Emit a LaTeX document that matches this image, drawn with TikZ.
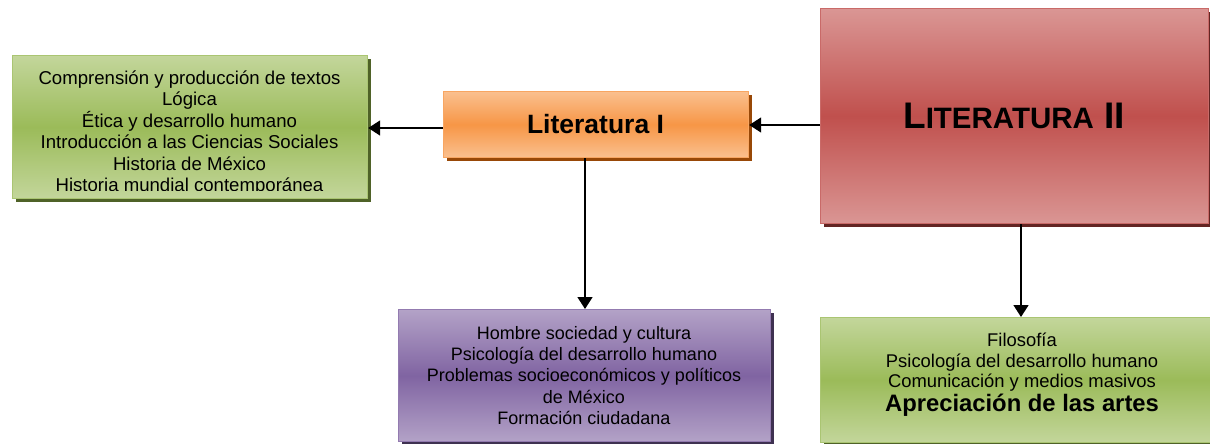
\documentclass[tikz,border=0pt]{standalone}
\usepackage{fontspec}
\setmainfont{Liberation Sans}
\usetikzlibrary{arrows.meta,shadows}
\definecolor{gL}{HTML}{C3D69B}\definecolor{gM}{HTML}{9BBB59}\definecolor{gD}{HTML}{4F6228}
\definecolor{oL}{HTML}{FAC08F}\definecolor{oM}{HTML}{F79646}\definecolor{oD}{HTML}{984807}
\definecolor{rL}{HTML}{DA9694}\definecolor{rM}{HTML}{C0504D}\definecolor{rD}{HTML}{632523}
\definecolor{pL}{HTML}{B3A2C7}\definecolor{pM}{HTML}{8064A2}\definecolor{pD}{HTML}{3F3151}
\tikzset{
  box/.style={rectangle, anchor=north west, inner sep=0pt, line width=1.2pt},
  greenbox/.style={box, draw=gM!85!white, top color=gL, bottom color=gL, middle color=gM,
     drop shadow={shadow xshift=3pt, shadow yshift=-3pt, opacity=1, fill=gD}},
  orangebox/.style={box, draw=oM!85!white, top color=oL, bottom color=oL, middle color=oM,
     drop shadow={shadow xshift=3pt, shadow yshift=-3pt, opacity=1, fill=oD}},
  redbox/.style={box, draw=rM!85!white, top color=rL, bottom color=rL, middle color=rM,
     drop shadow={shadow xshift=3pt, shadow yshift=-3pt, opacity=1, fill=rD}},
  purplebox/.style={box, draw=pM!85!white, top color=pL, bottom color=pL, middle color=pM,
     drop shadow={shadow xshift=3pt, shadow yshift=-3pt, opacity=1, fill=pD}},
  txt/.style={align=center, inner sep=0pt, font=\fontsize{18.6}{21.4}\selectfont},
  conn/.style={line width=1.6pt, -{Triangle[width=15pt,length=12pt]}},
}
\begin{document}
\begin{tikzpicture}[x=1pt,y=-1pt]
\useasboundingbox (0,0) rectangle (1210,444);
% boxes
\node[greenbox, minimum width=355pt, minimum height=143pt] (g1) at (12,55) {};
\node[orangebox, minimum width=305pt, minimum height=66pt] (l1) at (443,91) {};
\node[redbox, minimum width=388pt, minimum height=215pt] (l2) at (820,8) {};
\node[purplebox, minimum width=372pt, minimum height=132pt] (pu) at (398,309) {};
\node[greenbox, minimum width=395pt, minimum height=125pt] (g2) at (820,317) {};
% texts
\begin{scope}
\clip (14,57) rectangle (365,190);
\node[txt] (t1) at (189.5,133) {Comprensión y producción de textos\\Lógica\\Ética y desarrollo humano\\Introducción a las Ciencias Sociales\\Historia de México\\Historia mundial contemporánea};
\end{scope}
\node[inner sep=0pt, font=\fontsize{26.5}{30}\selectfont\bfseries] (t2) at (595.5,124) {Literatura I};
\node[inner sep=0pt, font=\bfseries] (t3) at (1014,116) {{\fontsize{37}{40}\selectfont L}{\fontsize{29.5}{40}\selectfont ITERATURA}{\fontsize{37}{40}\selectfont{} II}};
\node[txt, font=\fontsize{18}{21.25}\selectfont] (t4) at (584,375.5) {Hombre sociedad y cultura\\Psicología del desarrollo humano\\Problemas socioeconómicos y políticos\\de México\\Formación ciudadana};
\node[txt, font=\fontsize{18.4}{20.5}\selectfont] (t5) at (1022,375) {Filosofía\\Psicología del desarrollo humano\\Comunicación y medios masivos\\[2pt]{\fontsize{23.8}{26}\selectfont\bfseries Apreciación de las artes}};
% connectors
\draw[conn] (l2.west |- 0,125) -- (l1.east |- 0,125);
\draw[conn] (l1.west |- 0,128) -- (g1.east |- 0,128);
\draw[conn] (l1.south -| 585,0) -- (pu.north -| 585,0);
\draw[conn] (l2.south -| 1021,0) -- (g2.north -| 1021,0);
\end{tikzpicture}
\end{document}
